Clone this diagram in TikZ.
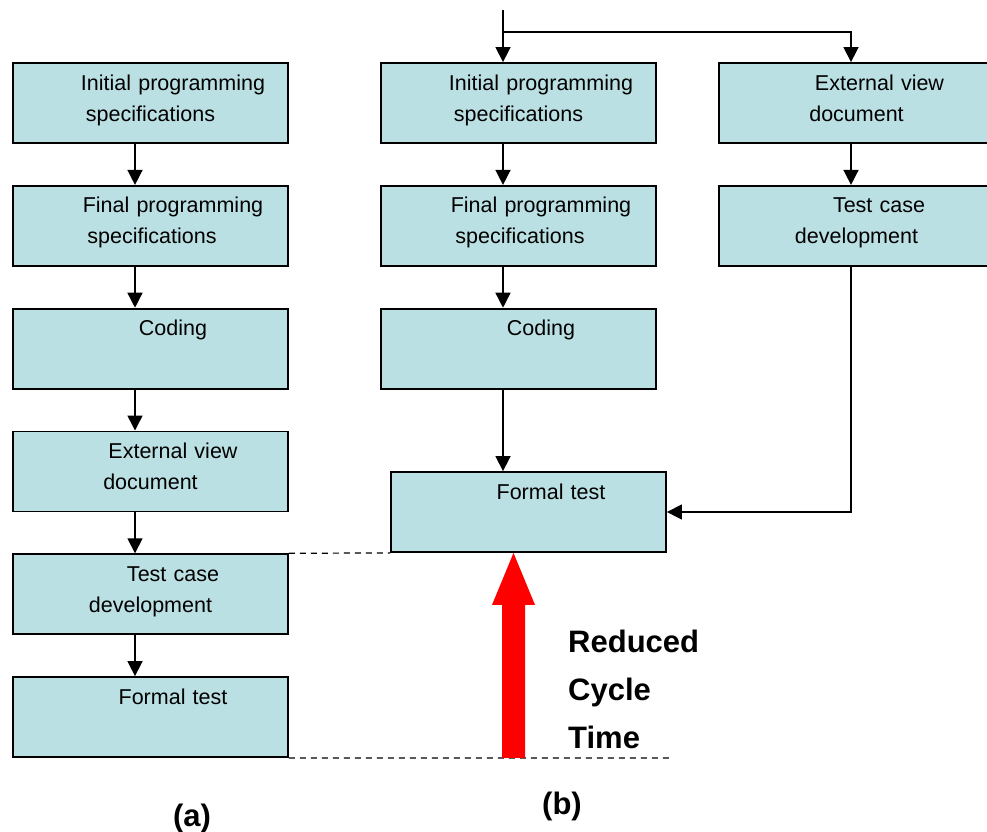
\documentclass[tikz,border=0pt]{standalone}
\usepackage{fontspec}
\setmainfont{Liberation Sans}
\usetikzlibrary{arrows.meta, positioning}

\definecolor{boxfill}{RGB}{187,224,227}

\begin{document}
\begin{tikzpicture}[
  x=1pt, y=-1pt,
  node distance=41pt,
  box/.style={rectangle, draw=black, line width=1.8pt, fill=boxfill,
              text width=275pt, inner xsep=0pt, align=center,
              minimum height=80pt, text height=16pt, text depth=42pt,
              font=\fontsize{21.5}{31}\selectfont},
  arr/.style={-{Triangle[length=15pt, width=15pt]}, line width=1.5pt},
  dashline/.style={line width=1.2pt, dash pattern=on 6pt off 5pt},
  caption/.style={font=\fontsize{31}{36}\selectfont\bfseries}
]
\clip (0,0) rectangle (987,831);

% (a) sequential flow
\node[box] (ainit) at (150.5,103) {\hspace*{45pt}Initial programming\\specifications};
\node[box, below=of ainit]  (afinal)  {\hspace*{45pt}Final programming\\\hspace*{3pt}specifications};
\node[box, below=of afinal] (acode)   {\hspace*{45pt}Coding};
\node[box, below=of acode]  (aview)   {\hspace*{45pt}External view\\document\hspace*{27pt}};
\node[box, below=of aview]  (acase)   {\hspace*{45pt}Test case\\development};
\node[box, below=of acase]  (aformal) {\hspace*{45pt}Formal test};

% (b) parallel flow
\node[box] (binit) at (518.5,103) {\hspace*{45pt}Initial programming\\specifications};
\node[box, below=of binit]  (bfinal) {\hspace*{45pt}Final programming\\\hspace*{3pt}specifications};
\node[box, below=of bfinal] (bcode)  {\hspace*{45pt}Coding};
\node[box] (bformal) at (528.5,512) {\hspace*{45pt}Formal test};

\node[box] (bview) at (856.5,103) {\hspace*{46pt}External view\\document\hspace*{27pt}};
\node[box, below=of bview]  (bcase) {\hspace*{45pt}Test case\\development\hspace*{2pt}};

\coordinate (src)    at (503,10);
\coordinate (split)  at (503,32);
\coordinate (dashend) at (673,758);
\coordinate (cycbot) at (513.5,758);

\draw[arr] ([xshift=-15.5pt]ainit.south)  -- ([xshift=-15.5pt]afinal.north);
\draw[arr] ([xshift=-15.5pt]afinal.south) -- ([xshift=-15.5pt]acode.north);
\draw[arr] ([xshift=-15.5pt]acode.south)  -- ([xshift=-15.5pt]aview.north);
\draw[arr] ([xshift=-15.5pt]aview.south)  -- ([xshift=-15.5pt]acase.north);
\draw[arr] ([xshift=-15.5pt]acase.south)  -- ([xshift=-15.5pt]aformal.north);

\draw[arr] (src) -- (src |- binit.north);
\draw[arr] (split) -| ([xshift=-5.5pt]bview.north);
\draw[arr] ([xshift=-15.5pt]binit.south)  -- ([xshift=-15.5pt]bfinal.north);
\draw[arr] ([xshift=-15.5pt]bfinal.south) -- ([xshift=-15.5pt]bcode.north);
\draw[arr] ([xshift=-15.5pt]bcode.south)  -- (src |- bformal.north);
\draw[arr] ([xshift=-5.5pt]bview.south)   -- ([xshift=-5.5pt]bcase.north);
\draw[arr] ([xshift=-5.5pt]bcase.south)   |- (bformal.east);

% time saved
\draw[dashline] (acase.north east) -- (bformal.south west);
\draw[dashline] (aformal.south east) -- (dashend);
\fill[red] (cycbot |- bformal.south) -- ++(21.5,52) -- ++(-10,0) -- ++(0,153)
  -- ++(-23,0) -- ++(0,-153) -- ++(-10,0) -- cycle;

\node[caption, align=left, inner sep=0pt, anchor=north west,
      font=\fontsize{31}{48}\selectfont\bfseries] (cyc) at (568,630) {Reduced\\Cycle\\Time};

\node[caption] (capa) at (192,818) {(a)};
\node[caption] (capb) at (562,806) {(b)};
\end{tikzpicture}
\end{document}
